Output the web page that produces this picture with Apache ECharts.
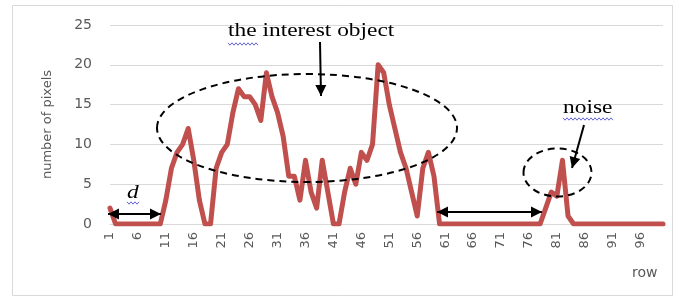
<!DOCTYPE html>
<html>
<head>
<meta charset="utf-8">
<script src="https://cdn.jsdelivr.net/npm/echarts@6/dist/echarts.min.js"></script>
<style>
  html, body { margin: 0; padding: 0; background: #fff; }
  #chart { width: 679px; height: 300px; }
</style>
</head>
<body>
<div id="chart"></div>
<script>
// row numbers 1..100
var rows = [];
for (var i = 1; i <= 100; i++) rows.push(String(i));

// number of pixels per row
var pixels = [
  2, 0, 0, 0, 0, 0, 0, 0, 0, 0,
  3, 7, 9, 10, 12, 8, 3, 0, 0, 7,
  9, 10, 14, 17, 16, 16, 15, 13, 19, 16,
  14, 11, 6, 6, 3, 8, 4, 2, 8, 4,
  0, 0, 4, 7, 5, 9, 8, 10, 20, 19,
  15, 12, 9, 7, 4, 1, 7, 9, 6, 0,
  0, 0, 0, 0, 0, 0, 0, 0, 0, 0,
  0, 0, 0, 0, 0, 0, 0, 0, 2, 4,
  3.5, 8, 1, 0, 0, 0, 0, 0, 0, 0,
  0, 0, 0, 0, 0, 0, 0, 0, 0, 0
];

var yTicks = [0, 5, 10, 15, 20, 25];

var greyText = '#595959';
var sans = 'DejaVu Sans';
var serif = 'Liberation Serif';

// arrow helpers for the annotations
function head(tx, ty, fx, fy) {
  var len = 11, half = 5.5;
  var dx = tx - fx, dy = ty - fy;
  var d = Math.sqrt(dx * dx + dy * dy);
  var ux = dx / d, uy = dy / d;
  var bx = tx - ux * len, by = ty - uy * len;
  return {
    type: 'polygon', z: 100,
    shape: { points: [[tx, ty], [bx - uy * half, by + ux * half], [bx + uy * half, by - ux * half]] },
    style: { fill: '#000' }
  };
}
function arrow(x1, y1, x2, y2, both) {
  var els = [{
    type: 'line', z: 100,
    shape: { x1: x1, y1: y1, x2: x2, y2: y2 },
    style: { stroke: '#000', lineWidth: 2 }
  }];
  els.push(head(x2, y2, x1, y1));
  if (both) els.push(head(x1, y1, x2, y2));
  return els;
}
function squiggle(x1, x2, y) {
  var pts = [];
  for (var x = x1, k = 0; x <= x2; x += 2, k++) pts.push([x, y + (k % 2 ? 1.2 : -1.2)]);
  return {
    type: 'polyline', z: 100, shape: { points: pts },
    style: { stroke: '#3c3cd0', lineWidth: 0.8, fill: null }
  };
}
function label(text, x, y, italic) {
  return {
    type: 'text', z: 100, x: x, y: y, scaleX: 1.3,
    style: {
      text: text, fill: '#000',
      font: (italic ? 'italic ' : '') + '18px "' + serif + '"',
      align: 'left', verticalAlign: 'middle'
    }
  };
}

var graphics = [
  {
    type: 'rect', z: -1,
    shape: { x: 12.5, y: 5.5, width: 660, height: 290 },
    style: { fill: 'transparent', stroke: '#d9d9d9', lineWidth: 1 }
  },
  {
    type: 'text', x: 632, y: 273,
    style: { text: 'row', fill: greyText, font: '14px "' + sans + '"', align: 'left', verticalAlign: 'middle' }
  },
  {
    type: 'ellipse', z: 100,
    shape: { cx: 307, cy: 128, rx: 150, ry: 54 },
    style: { fill: 'transparent', stroke: '#000', lineWidth: 2, lineDash: [7, 5] }
  },
  {
    type: 'ellipse', z: 100,
    shape: { cx: 557.5, cy: 172.5, rx: 34, ry: 24 },
    style: { fill: 'transparent', stroke: '#000', lineWidth: 2, lineDash: [7, 5] }
  },
  label('the interest object', 228, 31),
  label('noise', 563, 108),
  label('d', 127, 193, true),
  squiggle(228, 258, 44),
  squiggle(563, 613, 119),
  squiggle(127, 139, 203)
]
  .concat(arrow(320, 42, 321, 96, false))
  .concat(arrow(584, 125, 572, 168, false))
  .concat(arrow(108, 214, 161, 214, true))
  .concat(arrow(437, 212, 542, 212, true));

var chart = echarts.init(document.getElementById('chart'));
chart.setOption({
  animation: false,
  backgroundColor: '#fff',
  grid: { left: 110, right: 16, top: 25, bottom: 76 },
  xAxis: {
    type: 'category',
    data: rows,
    boundaryGap: false,
    axisLine: { lineStyle: { color: '#d9d9d9', width: 1 } },
    axisTick: { show: false },
    axisLabel: {
      interval: 4, rotate: 90, margin: 8,
      color: greyText, fontSize: 13, fontFamily: sans
    },
    splitLine: { show: false }
  },
  yAxis: {
    type: 'value',
    min: yTicks[0], max: yTicks[yTicks.length - 1], interval: 5,
    name: 'number of pixels',
    nameLocation: 'middle',
    nameGap: 56,
    nameTextStyle: { color: greyText, fontSize: 13, fontFamily: sans },
    axisLine: { show: false },
    axisTick: { show: false },
    axisLabel: { color: greyText, fontSize: 14, fontFamily: sans, margin: 18 },
    splitLine: { lineStyle: { color: '#d9d9d9', width: 1 } }
  },
  series: [{
    type: 'line',
    data: pixels,
    symbol: 'none',
    lineStyle: { color: '#c0504d', width: 5, join: 'round', cap: 'round' }
  }],
  graphic: graphics
});
</script>
</body>
</html>
